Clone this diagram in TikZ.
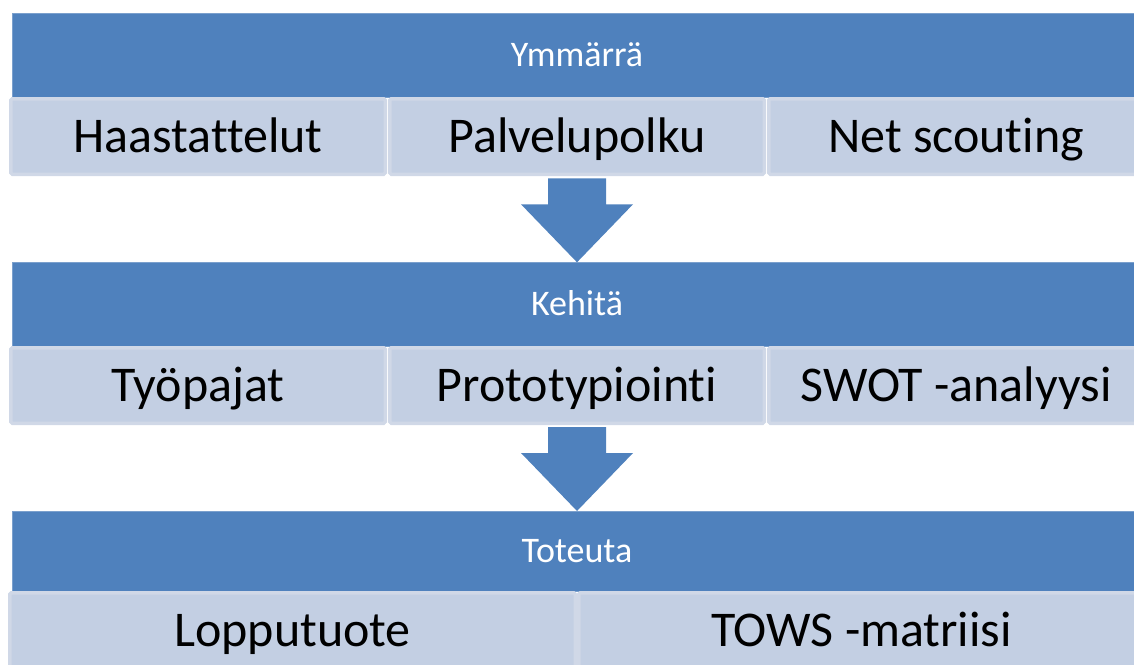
\documentclass[tikz,border=0pt]{standalone}
\usepackage{fontspec}
\setmainfont{Carlito}[Ligatures={NoCommon}]
\usetikzlibrary{calc}
\definecolor{barblue}{RGB}{79,129,189}
\definecolor{cellfill}{RGB}{195,207,227}
\definecolor{cellline}{RGB}{208,216,231}
\tikzset{
  bar/.style={fill=barblue, draw=barblue!75!white, line width=0.6pt,
    minimum width=1130pt, inner sep=0pt, text=white,
    font=\fontsize{36}{41}\selectfont, text height=23.2pt, text depth=0pt},
  cell/.style={fill=cellfill, draw=cellline, line width=3.5pt,
    rounded corners=1.5pt, minimum height=75.5pt, inner sep=0pt,
    font=\fontsize{50}{58}\selectfont, text height=32.2pt, text depth=0pt},
  third/.style={cell, minimum width=374.5pt},
  half/.style={cell, minimum width=565.5pt},
  pics/downarrow/.style={code={
    \fill[barblue] (-29,0) -- (29,0) -- (29,26) -- (56,26) -- (0,84)
      -- (-56,26) -- (-29,26) -- cycle;}}
}
\begin{document}
\begin{tikzpicture}[x=1pt,y=-1pt]
\path[use as bounding box] (0,0) rectangle (1134,664);
\clip (0,0) rectangle (1134,664);

% stage 1
\node[bar, minimum height=83.5pt] (ymm) at (577,55.25) {Ymmärrä};
\node[third] (haa) at (198,136.5) {Haastattelut};
\node[third] (pal) at (577,136.5) {Palvelupolku};
\node[third] (net) at (956,136.5) {Net scouting};

% stage 2
\node[bar, minimum height=83.3pt] (keh) at (577,304.35) {Kehitä};
\node[third] (tyo) at (198,385.5) {Työpajat};
\node[third] (pro) at (577,385.5) {Prototypiointi};
\node[third] (swo) at (956,385.5) {SWOT -analyysi};

% stage 3
\node[bar, minimum height=79.3pt] (tot) at (577,551.35) {Toteuta};
\node[half] (lop) at (292.5,630.5) {Lopputuote};
\node[half] (tow) at (861.5,630.5) {TOWS -matriisi};

% flow between the stages
\pic at ($(pal.south)+(0,2.3)$) {downarrow};
\pic at ($(pro.south)+(0,2)$) {downarrow};
\end{tikzpicture}
\end{document}
